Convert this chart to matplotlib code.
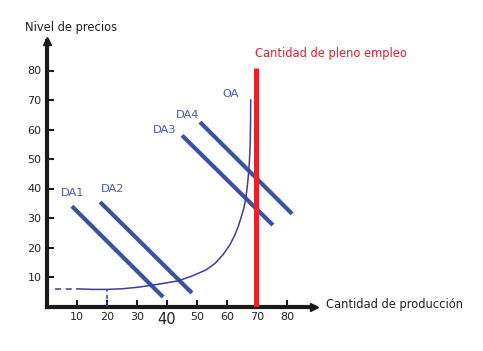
import matplotlib
matplotlib.use("Agg")
import matplotlib.pyplot as plt

# ---- data ----
x_ticks = [10, 20, 30, 40, 50, 60, 70, 80]
y_ticks = [10, 20, 30, 40, 50, 60, 70, 80]

da1_x = [8.3, 38.7]
da1_y = [34.0, 3.2]
da2_x = [17.7, 48.3]
da2_y = [35.4, 4.6]
da3_x = [45.0, 75.3]
da3_y = [58.0, 27.6]
da4_x = [51.0, 81.7]
da4_y = [62.5, 31.4]

oa_x = [10, 15, 20, 25, 30, 34.3, 38, 43.7, 48, 53, 56, 58.7, 61, 62.5, 63.7, 64.8, 65.7, 66.4, 67.0, 67.4, 67.7, 67.85, 67.9]
oa_y = [6.0, 5.8, 5.8, 6.0, 6.5, 7.1, 7.7, 8.7, 10.2, 12.4, 14.6, 17.6, 21.0, 24.0, 27.0, 30.5, 33.7, 37.5, 43.0, 48.0, 54.0, 62.0, 70.0]
oa_dash_x = [2.7, 10]
oa_dash_y = [6.0, 6.0]
q_ref = 20
p_ref = 5.8

full_emp_x = 69.7
full_emp_top = 80.8

labels = ["DA1", "DA2", "DA3", "DA4", "OA"]
label_x = [8.7, 21.7, 39.3, 47.0, 61.3]
label_y = [38.4, 39.8, 59.8, 64.9, 72.0]

# ---- figure ----
W, H = 483, 351
fig = plt.figure(figsize=(W / 100, H / 100), dpi=100)
ax = fig.add_axes([47 / W, (H - 306.5) / H, 267 / W, 265.5 / H])
ax.set_xlim(0, 89)
ax.set_ylim(0, 90)

for s in ["top", "right"]:
    ax.spines[s].set_visible(False)
for s in ["left", "bottom"]:
    ax.spines[s].set_linewidth(3)
    ax.spines[s].set_color("#1a1a1a")

# arrow heads
ax.plot([0], [90], marker="^", ms=6, color="#1a1a1a", clip_on=False, zorder=5)
ax.plot([89], [0], marker=">", ms=6, color="#1a1a1a", clip_on=False, zorder=5)

ax.set_xticks(x_ticks)
ax.set_yticks(y_ticks)
ax.set_xticklabels([str(v) for v in x_ticks])
ax.set_yticklabels([str(v) for v in y_ticks])
ax.tick_params(axis="both", direction="in", length=5, width=1.5, color="#1a1a1a",
               labelsize=8, labelcolor="#222222")
ax.tick_params(axis="x", pad=4)
ax.tick_params(axis="y", pad=4)
for lab in ax.get_xticklabels():
    if lab.get_text() == "40":
        lab.set_fontsize(10.5)

blue = "#3a52a3"
curve = "#3b3f9e"
for xs, ys in [(da1_x, da1_y), (da2_x, da2_y), (da3_x, da3_y), (da4_x, da4_y)]:
    ax.plot(xs, ys, color=blue, lw=3, solid_capstyle="butt", zorder=3)

ax.plot(oa_x, oa_y, color=curve, lw=1.1, zorder=3)
ax.plot(oa_dash_x, oa_dash_y, color=curve, lw=1.1, ls=(0, (4, 3)), zorder=3)
ax.plot([q_ref, q_ref], [0, p_ref], color=curve, lw=1.1, ls=(0, (3, 2)), zorder=3)

ax.plot([full_emp_x, full_emp_x], [0, full_emp_top], color="#e8202a", lw=3.6,
        solid_capstyle="butt", zorder=4)

for t, lx, ly in zip(labels, label_x, label_y):
    ax.text(lx, ly, t, color="#4a58a8", fontsize=8.2, ha="center", va="center")

fig.text(71 / W, 1 - 27 / H, "Nivel de precios", fontsize=8.3, color="#222222",
         ha="center", va="center")
fig.text(326 / W, 1 - 304.5 / H, "Cantidad de producción", fontsize=8.3, color="#222222",
         ha="left", va="center")
fig.text(255 / W, 1 - 54 / H, "Cantidad de pleno empleo", fontsize=8.3, color="#e8202a",
         ha="left", va="center")

fig.savefig("out.png", dpi=100)
